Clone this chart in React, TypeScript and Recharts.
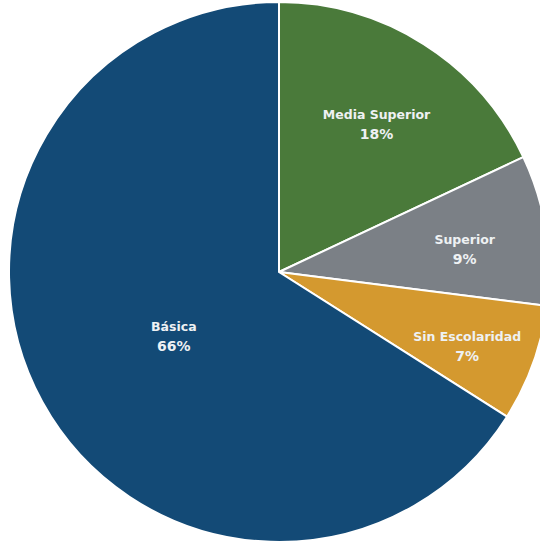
import React from "react";
import { PieChart, Pie, Cell } from "recharts";

const categories = ["Media Superior", "Superior", "Sin Escolaridad", "Básica"];
const values = [18, 9, 7, 66];
const colors = ["#4a7a3a", "#7b8086", "#d4992f", "#134a76"];

const data = categories.map((name, i) => ({ name, value: values[i] }));

const RADIAN = Math.PI / 180;
const labelRadius: Record<string, number> = {
  "Media Superior": 182,
  Superior: 188,
  "Sin Escolaridad": 200,
  "Básica": 120,
};

const renderLabel = (props: any) => {
  const { cx, cy, midAngle, name, value } = props;
  const r = labelRadius[name] ?? 180;
  const x = cx + r * Math.cos(-midAngle * RADIAN);
  const y = cy + r * Math.sin(-midAngle * RADIAN);
  return (
    <text
      x={x}
      y={y}
      textAnchor="middle"
      fill="#eef1f3"
      fontFamily="'DejaVu Sans', sans-serif"
      fontWeight="bold"
      fontSize={12.5}
    >
      <tspan x={x} dy={1}>{name}</tspan>
      <tspan x={x} dy={20} fontSize={14}>{`${value}%`}</tspan>
    </text>
  );
};

export default function App() {
  return (
    <div style={{ position: "absolute", left: 0, top: 0, width: 540, height: 543, background: "#fff", overflow: "hidden" }}>
      <PieChart width={540} height={543} margin={{ top: 0, right: 0, bottom: 0, left: 0 }}>
        <Pie
          data={data}
          dataKey="value"
          nameKey="name"
          cx={279}
          cy={272}
          outerRadius={270}
          startAngle={90}
          endAngle={-270}
          stroke="#ffffff"
          strokeWidth={2}
          label={renderLabel}
          labelLine={false}
          isAnimationActive={false}
        >
          {data.map((d, i) => (
            <Cell key={d.name} fill={colors[i]} />
          ))}
        </Pie>
      </PieChart>
    </div>
  );
}
